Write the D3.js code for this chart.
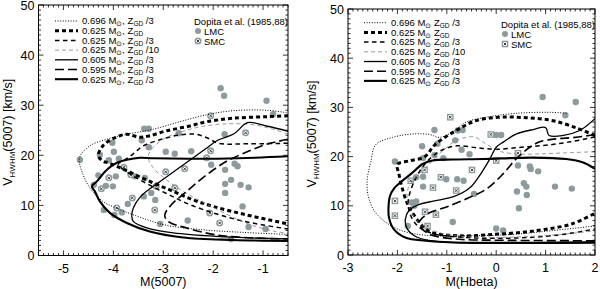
<!DOCTYPE html>
<html><head><meta charset="utf-8">
<script src="https://cdn.jsdelivr.net/npm/d3@7"></script>
<style>
body{margin:0;background:#fff}
svg{display:block;font-family:"Liberation Sans",Arial,sans-serif}
</style>
</head><body>
<svg id="c" width="600" height="289"></svg>
<script>
// ---- data ----
const xTicksA = [-5, -4, -3, -2, -1];
const xTicksB = [-3, -2, -1, 0, 1, 2];
const yTicks = [0, 10, 20, 30, 40, 50];
const masses = ["0.696", "0.625", "0.625", "0.625", "0.605", "0.595", "0.625"];
const metals = ["/3", "", "/3", "/10", "/3", "/3", "/3"];

// left panel: M(5007)
const lmcA = [[-4.67,19.1],[-4.27,20.1],[-3.99,20.7],[-4.09,19.0],[-3.89,19.3],[-3.29,21.6],[-2.95,20.7],[-2.77,20.3],[-2.44,20.8],
  [-2.04,18.1],[-1.76,17.1],[-1.57,18.3],[-1.51,17.8],[-1.64,15.1],[-1.76,14.3],[-1.45,14.1],[-1.29,13.6],[-1.76,12.5],[-1.41,9.8],
  [-1.29,5.7],[-0.95,5.3],[-2.51,7.0],[-3.06,6.3],[-4.39,14.1],[-4.15,13.9],[-4.01,13.8],[-3.95,15.8],[-3.57,15.8],[-3.37,15.5],
  [-3.39,11.8],[-3.24,12.5],[-3.16,11.1],[-3.71,10.3],[-4.19,9.1],[-3.83,8.6],[-3.98,8.1],[-1.64,3.3],[-4.3,16.0],
  [-1.85,33.4],[-1.78,31.9],[-0.93,30.9],[-3.38,25.3],[-3.29,25.3],[-2.69,24.4],[-1.77,24.2],[-3.43,23.0],[-4.02,22.5],[-0.8,28.2]];
const smcA = [[-2.05,20.9],[-2.13,19.5],[-2.57,17.3],[-2.95,16.7],[-3.79,17.6],[-4.09,15.5],[-3.65,16.1],[-4.24,13.3],[-3.14,13.8],
  [-2.77,13.5],[-3.62,11.5],[-3.17,9.1],[-2.07,8.5],[-1.87,6.5],[-2.05,27.9],[-1.35,24.5],[-3.93,9.5]];

const a696 = [[-0.53,28.5],[-0.93,29.0],[-1.6,28.9],[-2.13,28.1],[-2.67,26.7],[-3.2,25.2],[-3.73,24.2],[-4.13,23.2],[-4.47,21.9],
  [-4.68,19.5],[-4.62,16.5],[-4.45,13.2],[-4.21,10.8],[-3.97,9.6],[-3.51,7.8],[-2.97,6.1],[-2.17,5.1],[-1.37,4.6],[-0.5,4.2]];
const a625gd = [[-0.5,27.9],[-0.93,27.7],[-1.6,27.4],[-2.13,26.7],[-2.53,25.7],[-2.93,24.9],[-3.27,23.9],[-3.47,23.6],[-3.73,24.2],
  [-3.97,23.5],[-4.2,22.0],[-4.3,20.0],[-4.22,18.9],[-4.07,18.4],[-3.73,16.9],[-3.27,14.8],[-2.8,12.8],[-2.4,11.1],[-2.0,9.8],
  [-1.33,8.1],[-0.5,6.3]];
const a625 = [[-0.5,22.4],[-1.3,22.3],[-1.9,22.4],[-2.1,23.4],[-2.35,24.2],[-2.7,24.0],[-3.1,23.0],[-3.4,21.9],[-3.6,20.3],
  [-3.8,18.9],[-3.9,18.3],[-3.7,16.5],[-3.3,14.2],[-2.9,12.2],[-2.5,10.3],[-2.0,8.5],[-1.5,7.1],[-1.0,6.1],[-0.5,5.3]];
const a625z10 = [[-0.5,24.2],[-0.8,25.2],[-1.2,26.1],[-1.7,26.3],[-2.2,25.8],[-2.6,24.8],[-3.0,23.2],[-3.25,21.0],[-3.3,19.5],
  [-3.2,17.5],[-2.95,15.2],[-2.6,12.8],[-2.2,10.6],[-1.8,8.6],[-1.3,6.3],[-0.8,4.9],[-0.5,4.4]];
const a605 = [[-0.5,24.8],[-0.91,25.8],[-1.31,26.5],[-1.58,24.3],[-1.91,23.0],[-2.15,21.3],[-2.4,19.5],[-2.75,17.0],[-3.1,14.5],
  [-3.45,11.8],[-3.6,9.5],[-3.63,7.8],[-3.6,6.8],[-3.33,5.5],[-2.8,4.5],[-1.93,3.8],[-0.5,3.3]];
const a595 = [[-0.5,23.2],[-0.93,22.2],[-1.27,20.9],[-1.73,18.8],[-2.13,16.1],[-2.53,12.8],[-2.85,10.0],[-2.97,8.0],[-2.9,6.8],
  [-2.53,5.5],[-1.93,4.1],[-1.2,3.5],[-0.5,3.3]];
const a625s = [[-0.5,19.8],[-1.5,19.4],[-2.5,19.3],[-3.2,19.4],[-3.47,19.5],[-3.73,19.1],[-3.93,18.5],[-4.13,17.1],[-4.33,14.8],
  [-4.43,13.8],[-4.37,12.8],[-4.27,10.8],[-4.07,8.5],[-3.73,6.5],[-3.27,4.8],[-2.6,3.6],[-1.6,3.1],[-0.5,2.9]];

// right panel: M(Hbeta)
const lmcB = [[0.94,32.1],[1.61,31.1],[1.40,28.4],[-1.25,25.4],[-0.78,25.3],[-0.68,25.4],[0.0,24.4],[0.1,24.4],[-1.19,22.6],
  [-0.83,23.3],[-2.05,19.0],[-1.48,19.7],[-1.25,20.3],[-1.07,19.7],[-0.70,21.4],[-0.54,20.5],[-1.62,15.8],[-1.48,13.9],[-1.48,15.9],
  [-1.01,15.4],[-0.79,15.4],[-0.66,15.1],[-1.71,10.7],[-1.66,10.0],[-0.88,6.7],[-0.45,12.4],[0.0,5.4],[0.14,5.0],[0.42,12.9],
  [0.44,18.2],[0.56,14.6],[0.61,13.9],[0.62,12.2],[0.68,18.0],[0.70,17.5],[0.85,17.0],[0.46,9.5],[1.19,13.9],[1.53,13.5],
  [-1.79,5.9],[-1.62,10.9],[-1.5,22.1]];
const smcB = [[-0.93,28.0],[-0.11,24.5],[-2.05,11.0],[-2.05,8.0],[-1.73,15.1],[-1.45,17.3],[-1.28,13.7],[-1.12,15.8],[-0.81,13.1],
  [-0.49,17.3],[0.0,19.2],[0.44,20.7],[-1.44,8.8],[-1.22,8.2],[-1.39,5.9]];

const b696 = [[1.42,28.8],[1.08,29.0],[0.41,28.8],[-0.2,28.0],[-0.61,27.0],[-0.85,25.2],[-1.15,23.9],[-1.35,24.5],[-1.69,24.6],
  [-2.1,23.9],[-2.44,22.4],[-2.54,18.8],[-2.61,15.4],[-2.59,12.0],[-2.47,9.0],[-2.23,6.6],[-1.9,4.9],[-1.42,4.0],[-0.61,3.9],
  [0.34,4.2],[1.08,4.9],[2.0,5.9]];
const b625gd = [[2.0,24.3],[1.63,25.8],[1.15,27.3],[0.61,27.9],[0.07,28.0],[-0.41,27.3],[-0.81,25.3],[-1.22,22.6],[-1.46,19.9],
  [-1.73,19.2],[-2.0,18.4],[-1.97,16.5],[-1.9,13.5],[-1.8,10.5],[-1.67,8.2],[-1.5,6.0],[-1.32,4.6],[-0.71,3.9],[-0.03,4.2],
  [0.51,4.6],[0.98,5.2],[1.53,6.3],[2.0,8.5]];
const b625 = [[2.0,24.0],[1.5,23.0],[1.0,22.3],[0.5,21.9],[0.0,21.5],[-0.4,21.8],[-0.8,22.2],[-1.1,21.3],[-1.35,19.5],[-1.55,17.0],
  [-1.7,14.0],[-1.78,11.0],[-1.75,8.5],[-1.6,6.0],[-1.3,4.4],[-0.7,3.6],[0.2,3.4],[1.0,3.8],[1.5,4.4],[2.0,5.3]];
const b625z10 = [[2.0,21.0],[1.5,20.8],[1.0,20.6],[0.5,20.5],[0.1,21.0],[-0.2,22.5],[-0.45,24.0],[-0.8,23.3],[-1.1,21.0],
  [-1.4,18.0],[-1.65,15.5],[-1.8,13.0],[-1.75,9.5],[-1.55,6.5],[-1.1,4.4],[-0.3,3.6],[0.5,3.7],[1.2,4.1],[2.0,4.9]];
const b605 = [[2.0,27.7],[1.69,25.3],[1.36,24.3],[1.07,24.3],[1.0,25.9],[0.75,25.5],[0.41,24.6],[0.15,23.0],[0.0,21.9],
  [-0.13,19.5],[-0.34,16.1],[-0.54,13.6],[-0.85,11.9],[-1.25,11.0],[-1.58,10.2],[-1.77,9.0],[-1.84,7.2],[-1.8,5.3],
  [-1.6,3.6],[-1.15,2.7],[-0.27,2.4],[2.0,2.4]];
const b595 = [[2.0,24.5],[1.6,23.9],[1.2,23.6],[0.88,23.0],[0.68,21.9],[0.4,19.5],[0.14,16.5],[-0.2,13.4],[-0.61,11.4],[-1.02,9.7],
  [-1.35,8.6],[-1.5,7.5],[-1.56,6.6],[-1.49,5.2],[-1.29,4.0],[-0.75,3.2],[0.07,3.0],[2.0,2.9]];
const b625s = [[2.0,17.5],[1.76,18.8],[1.42,19.5],[0.74,19.8],[-0.27,19.5],[-0.88,19.4],[-1.29,19.2],[-1.49,18.5],[-1.7,16.7],
  [-1.9,15.1],[-2.07,13.5],[-2.15,12.0],[-2.18,9.7],[-2.17,7.6],[-2.07,5.2],[-1.83,3.5],[-1.42,2.9],[-0.61,2.5],[2.0,2.65]];

// ---- styles ----
const GRAY = "#8e9b9d";
const styles = [
  { w: 1, dash: "1,1.6", col: "#000" },
  { w: 3, dash: "4,3", col: "#000" },
  { w: 1.5, dash: "4.5,3.5", col: "#000" },
  { w: 0.8, dash: "4,3", col: "#808080" },
  { w: 1.3, dash: null, col: "#000" },
  { w: 1.6, dash: "9,4", col: "#000" },
  { w: 2.1, dash: null, col: "#000" },
];

const panels = [
  { x0: 38.5, x1: 288, y0: 5, y1: 255.5, xdom: [-5.5, -0.5], xticks: xTicksA, xlab: "M(5007)",
    lmc: lmcA, smc: smcA, curves: [a696, a625gd, a625, a625z10, a605, a595, a625s],
    comma: true, square: false, legX: 55, legY: 21, dopX: 194, dopY: 21, ytitleX: 12 },
  { x0: 348, x1: 595, y0: 9, y1: 255, xdom: [-3, 2], xticks: xTicksB, xlab: "M(Hbeta)",
    lmc: lmcB, smc: smcB, curves: [b696, b625gd, b625, b625z10, b605, b595, b625s],
    comma: false, square: true, legX: 364, legY: 22.7, dopX: 501, dopY: 24, ytitleX: 316 },
];

const svg = d3.select("#c");

function smcMark(g, cx, cy, square) {
  if (square) {
    g.append("rect").attr("x", cx - 3.3).attr("y", cy - 3.3).attr("width", 6.6).attr("height", 6.6).attr("fill", GRAY);
    g.append("rect").attr("x", cx - 2).attr("y", cy - 2).attr("width", 4).attr("height", 4).attr("fill", "#fff");
  } else {
    g.append("circle").attr("cx", cx).attr("cy", cy).attr("r", 3.5).attr("fill", GRAY);
    g.append("circle").attr("cx", cx).attr("cy", cy).attr("r", 2.1).attr("fill", "#fff");
  }
  g.append("path").attr("d", `M${cx - 1.3},${cy - 1.3}L${cx + 1.3},${cy + 1.3}M${cx - 1.3},${cy + 1.3}L${cx + 1.3},${cy - 1.3}`)
    .attr("stroke", "#222").attr("stroke-width", 0.9);
}

panels.forEach((p, pi) => {
  const x = d3.scaleLinear().domain(p.xdom).range([p.x0, p.x1]);
  const y = d3.scaleLinear().domain([0, 50]).range([p.y1, p.y0]);
  const g = svg.append("g");
  const clipId = "clip" + pi;
  g.append("clipPath").attr("id", clipId).append("rect")
    .attr("x", p.x0).attr("y", p.y0).attr("width", p.x1 - p.x0).attr("height", p.y1 - p.y0);
  const plot = g.append("g").attr("clip-path", `url(#${clipId})`);

  // points
  plot.append("g").selectAll("circle").data(p.lmc).join("circle")
    .attr("cx", (d) => x(d[0])).attr("cy", (d) => y(d[1])).attr("r", 3.2).attr("fill", GRAY);
  const sg = plot.append("g");
  p.smc.forEach((d) => smcMark(sg, x(d[0]), y(d[1]), p.square));

  // curves
  const line = d3.line().x((d) => x(d[0])).y((d) => y(d[1])).curve(d3.curveCatmullRom.alpha(0.5));
  p.curves.forEach((c, i) => {
    const s = styles[i];
    plot.append("path").datum(c).attr("d", line).attr("fill", "none")
      .attr("stroke", s.col).attr("stroke-width", s.w).attr("stroke-dasharray", s.dash);
  });

  // frame + ticks on all sides
  g.append("rect").attr("x", p.x0).attr("y", p.y0).attr("width", p.x1 - p.x0).attr("height", p.y1 - p.y0)
    .attr("fill", "none").attr("stroke", "#000").attr("stroke-width", 1);
  const tk = g.append("g").attr("stroke", "#000").attr("stroke-width", 0.8);
  const xMinor = d3.range(Math.round(p.xdom[0] * 10), Math.round(p.xdom[1] * 10) + 1).map((v) => v / 10);
  xMinor.forEach((v) => {
    const len = Math.abs(v - Math.round(v)) < 1e-6 ? 5 : 2.5;
    tk.append("line").attr("x1", x(v)).attr("x2", x(v)).attr("y1", p.y1).attr("y2", p.y1 - len);
    tk.append("line").attr("x1", x(v)).attr("x2", x(v)).attr("y1", p.y0).attr("y2", p.y0 + len);
  });
  d3.range(0, 51).forEach((v) => {
    const len = v % 10 === 0 ? 5 : 2.5;
    tk.append("line").attr("y1", y(v)).attr("y2", y(v)).attr("x1", p.x0).attr("x2", p.x0 + len);
    tk.append("line").attr("y1", y(v)).attr("y2", y(v)).attr("x1", p.x1).attr("x2", p.x1 - len);
  });

  // tick labels
  g.append("g").selectAll("text").data(p.xticks).join("text")
    .attr("x", (d) => x(d)).attr("y", p.y1 + 17).attr("text-anchor", "middle")
    .attr("font-size", 12.5).text((d) => String(d));
  g.append("g").selectAll("text").data(yTicks).join("text")
    .attr("x", p.x0 - 4).attr("y", (d) => y(d) + 4.5).attr("text-anchor", "end")
    .attr("font-size", 12.5).text((d) => String(d));

  // axis titles
  g.append("text").attr("x", (p.x0 + p.x1) / 2).attr("y", 286).attr("text-anchor", "middle")
    .attr("font-size", 12.5).text(p.xlab);
  const yt = g.append("text").attr("transform", `translate(${p.ytitleX},${(p.y0 + p.y1) / 2 + 2}) rotate(-90)`)
    .attr("text-anchor", "middle").attr("font-size", 12.5);
  yt.append("tspan").text("V");
  yt.append("tspan").attr("font-size", 8).attr("dy", 3).text("HWHM");
  yt.append("tspan").attr("dy", -3).text("(5007) [km/s]");

  // legend of models
  const lg = g.append("g");
  styles.forEach((s, i) => {
    const ly = p.legY + i * 9.7;
    lg.append("line").attr("x1", p.legX).attr("x2", p.legX + 23).attr("y1", ly).attr("y2", ly)
      .attr("stroke", s.col).attr("stroke-width", s.w).attr("stroke-dasharray", s.dash);
    const t = lg.append("text").attr("x", p.legX + 27).attr("y", ly + 3.3).attr("font-size", 9.5);
    t.append("tspan").text(masses[i] + " M");
    t.append("tspan").attr("font-size", 6.5).attr("dy", 2).text("\u2299");
    t.append("tspan").attr("dy", -2).text((p.comma ? ", " : " ") + "Z");
    t.append("tspan").attr("font-size", 6.5).attr("dy", 2).text("GD");
    t.append("tspan").attr("dy", -2).text(metals[i] ? " " + metals[i] : "");
  });

  // legend of observations
  g.append("text").attr("x", p.dopX).attr("y", p.dopY + 3.5).attr("font-size", 9.5).text("Dopita et al. (1985,88)");
  g.append("circle").attr("cx", p.dopX + 4).attr("cy", p.dopY + 10).attr("r", 3).attr("fill", GRAY);
  g.append("text").attr("x", p.dopX + 10).attr("y", p.dopY + 13.5).attr("font-size", 9.5).text("LMC");
  smcMark(g, p.dopX + 4, p.dopY + 20, p.square);
  g.append("text").attr("x", p.dopX + 10).attr("y", p.dopY + 23.5).attr("font-size", 9.5).text("SMC");
});
</script>
</body></html>
